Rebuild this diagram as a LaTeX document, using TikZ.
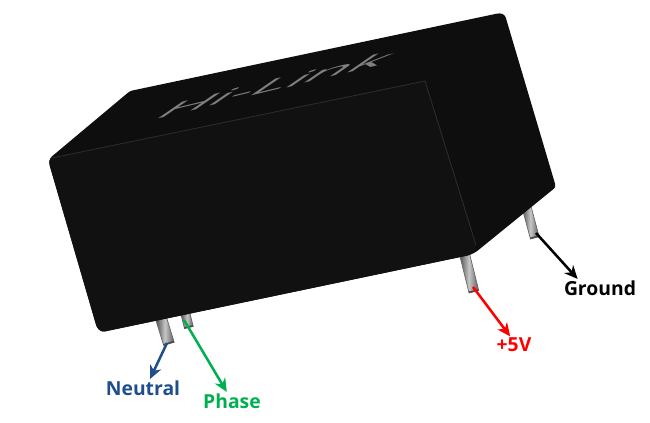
\documentclass[tikz,border=0pt]{standalone}
\usepackage{fontspec}
\setmainfont{Open Sans}
\usetikzlibrary{arrows.meta}
\definecolor{neutralblue}{HTML}{1F4E8C}
\definecolor{phasegreen}{HTML}{00B050}
\definecolor{casecolor}{HTML}{0E0E0E}
\definecolor{frontcolor}{HTML}{111111}
\definecolor{edgecolor}{HTML}{2E2E2E}
\tikzset{
  pinbody/.style={left color=black!70, right color=black!65, middle color=black!22, draw=black!60, line width=0.5pt},
  pinlabel/.style={font=\fontsize{14.5}{16}\selectfont\bfseries, inner sep=1pt},
  pinarrow/.style={line width=1.9pt, -{Stealth[length=10pt,width=9pt]}}
}
\begin{document}
\begin{tikzpicture}[x=0.75pt, y=-0.75pt]
  \useasboundingbox (0, 0) rectangle (650, 423);

  % pins
  \foreach \x/\y/\a/\l/\w in {161/318/17/27/5.5, 185/312/14/16/4.5, 464/252/14/41/5, 526/205/15/34/4.5} {
    \begin{scope}[shift={(\x, \y)}, rotate=\a]
      \shade[pinbody] (-\w, 0) rectangle (\w, \l);
      \fill[black!70] (-\w, \l - 1.5) rectangle (\w, \l);
    \end{scope}
  }

  % case
  \fill[casecolor, rounded corners=2pt] (130, 91) -- (500, 13) -- (505, 15) -- (556, 187)
    -- (476, 252) -- (470, 255) -- (102, 332) -- (97, 328) -- (49, 163) -- (50, 158) -- cycle;
  \fill[frontcolor, rounded corners=2pt] (50, 159) -- (425, 81) -- (477, 247) -- (470, 255)
    -- (102, 332) -- (97, 328) -- (49, 163) -- cycle;
  \draw[edgecolor, line width=0.6pt] (52, 158) -- (425, 81) -- (476, 245);

  % marking
  \node[transform shape, rotate=13.5, xslant=2.6, xscale=1.75, yscale=0.36, font=\fontsize{31}{31}\selectfont,
    text=black!50, inner sep=0pt] (marking) at (278, 84) {Hi-Link};

  % labels
  \node[pinlabel, text=neutralblue] (neutral) at (143, 388) {Neutral};
  \node[pinlabel, text=phasegreen] (phase) at (232, 401) {Phase};
  \node[pinlabel, text=red] (plusfive) at (514, 345) {+5V};
  \node[pinlabel, text=black] (ground) at (600, 288) {Ground};

  \coordinate (neutralpin) at (167, 343);
  \coordinate (phasepin) at (184, 320);
  \coordinate (plusfivepin) at (473, 287);
  \coordinate (groundpin) at (536, 233);

  % arrows
  \draw[pinarrow, neutralblue] (neutralpin) -- (neutral.52);
  \draw[pinarrow, phasegreen] (phasepin) -- (phase.120);
  \draw[pinarrow, red] (plusfivepin) -- (plusfive.114);
  \draw[pinarrow, black] (groundpin) -- (ground.158);
\end{tikzpicture}
\end{document}
